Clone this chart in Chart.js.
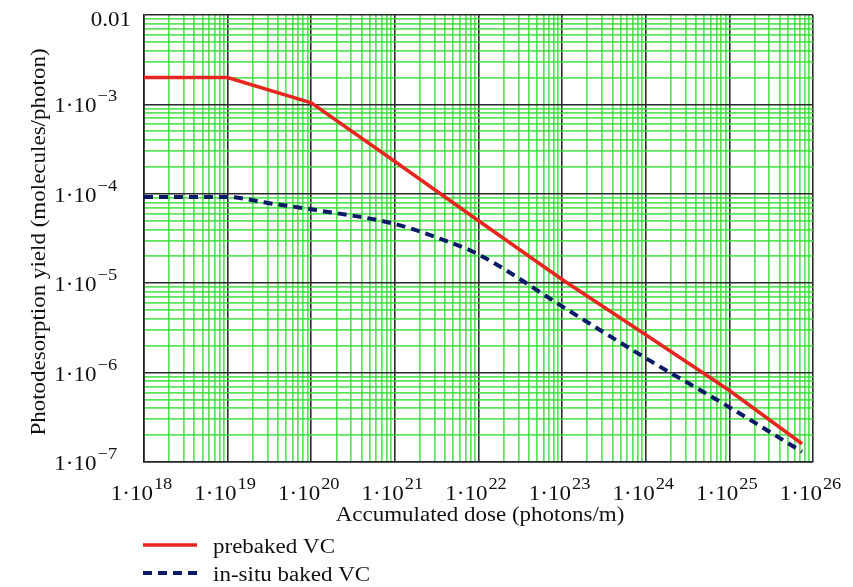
<!DOCTYPE html>
<html>
<head>
<meta charset="utf-8">
<script src="https://cdn.jsdelivr.net/npm/chart.js@4.4.0/dist/chart.umd.min.js"></script>
<style>
  html, body { margin: 0; padding: 0; background: #fff; }
  #wrap { width: 853px; height: 587px; }
</style>
</head>
<body>
<div id="wrap"><canvas id="chart" width="853" height="587"></canvas></div>
<script>
// accumulated dose (photons/m) and yields
const dosePrebaked = [1e18, 1e19, 1e20, 1e21, 1e22, 1e23, 1e24, 1e25, 7.4e25];
const yieldPrebaked = [2.0e-3, 2.0e-3, 1.04e-3, 2.3e-4, 5.0e-5, 1.1e-5, 2.65e-6, 6.3e-7, 1.6e-7];

const doseInsitu = [1e18, 1e19, 3e19, 1e20, 1e21, 3e21, 1e22, 1e23, 1e24, 1e25, 7.4e25];
const yieldInsitu = [9.2e-5, 9.2e-5, 7.9e-5, 6.7e-5, 4.6e-5, 3.3e-5, 2.1e-5, 5.5e-6, 1.45e-6, 4.1e-7, 1.3e-7];

const xDecades = [18, 19, 20, 21, 22, 23, 24, 25, 26];
const yDecades = [-7, -6, -5, -4, -3, -2];
const seriesNames = ['prebaked VC', 'in-situ baked VC'];
const xTitle = 'Accumulated dose (photons/m)';
const yTitle = 'Photodesorption yield (molecules/photon)';

const SERIF = '"Liberation Serif", "DejaVu Serif", serif';
const SX = 1.15; // the source text is a bit wider than Times

function toPoints(xs, ys) {
    return xs.map((x, i) => ({ x: x, y: ys[i] }));
}

function logTicks(decades) {
    const ticks = [];
    for (let i = 0; i < decades.length; i++) {
        const e = decades[i];
        ticks.push({ value: Math.pow(10, e) });
        if (i < decades.length - 1) {
            for (let m = 2; m <= 9; m++) ticks.push({ value: m * Math.pow(10, e) });
        }
    }
    return ticks;
}

function isDecade(v) {
    const l = Math.log10(v);
    return Math.abs(l - Math.round(l)) < 1e-6;
}

function textWidth(ctx, text, font) {
    ctx.font = font;
    return ctx.measureText(text).width * SX;
}

function drawText(ctx, text, left, baseline, font) {
    ctx.save();
    ctx.font = font;
    ctx.textAlign = 'left';
    ctx.textBaseline = 'alphabetic';
    ctx.translate(left, baseline);
    ctx.scale(SX, 1);
    ctx.fillText(text, 0, 0);
    ctx.restore();
}

const mainFont = '20px ' + SERIF;
const supFont = '16px ' + SERIF;

const labelsPlugin = {
    id: 'mathcadLabels',
    afterDraw(chart) {
        const ctx = chart.ctx;
        const xs = chart.scales.x;
        const ys = chart.scales.y;
        ctx.save();
        ctx.fillStyle = '#111';

        // x tick labels: 1·10^n
        xDecades.forEach(e => {
            const px = xs.getPixelForValue(Math.pow(10, e));
            const wm = textWidth(ctx, '1·10', mainFont);
            const wsup = textWidth(ctx, String(e), supFont);
            const left = px - 3 - (wm + wsup) / 2;
            drawText(ctx, '1·10', left, 500, mainFont);
            drawText(ctx, String(e), left + wm + 1, 489, supFont);
        });

        // y tick labels
        yDecades.forEach(e => {
            const py = ys.getPixelForValue(Math.pow(10, e));
            if (e === -2) {
                const w = textWidth(ctx, '0.01', mainFont);
                drawText(ctx, '0.01', 131 - w, py + 11, mainFont);
                return;
            }
            const wm = textWidth(ctx, '1·10', mainFont);
            drawText(ctx, '1·10', 96.5 - wm, py + 8, mainFont);
            drawText(ctx, '\u2212' + Math.abs(e), 97.5, py - 3, supFont);
        });

        // axis titles
        const wx = textWidth(ctx, xTitle, mainFont);
        drawText(ctx, xTitle, 480 - wx / 2, 521, mainFont);

        ctx.save();
        ctx.translate(45, 242);
        ctx.rotate(-Math.PI / 2);
        const wy = textWidth(ctx, yTitle, mainFont);
        drawText(ctx, yTitle, -wy / 2, 0, mainFont);
        ctx.restore();

        // legend
        const rows = [545, 573];
        chart.data.datasets.forEach((ds, i) => {
            ctx.save();
            ctx.strokeStyle = ds.borderColor;
            ctx.lineWidth = ds.borderWidth;
            ctx.setLineDash(ds.borderDash || []);
            ctx.beginPath();
            ctx.moveTo(143, rows[i]);
            ctx.lineTo(197, rows[i]);
            ctx.stroke();
            ctx.restore();
            drawText(ctx, ds.label, 213, rows[i] + 8, mainFont);
        });
        ctx.restore();
    }
};

const gridColor = c => (c.tick && isDecade(c.tick.value)) ? '#2a2a2a' : 'rgba(50,220,50,0.8)';
const gridWidth = c => (c.tick && isDecade(c.tick.value)) ? 1.6 : 1.7;

new Chart(document.getElementById('chart').getContext('2d'), {
    type: 'line',
    data: {
        datasets: [{
            label: seriesNames[0],
            data: toPoints(dosePrebaked, yieldPrebaked),
            borderColor: '#e8251f',
            borderWidth: 3.5,
            pointRadius: 0,
            tension: 0,
            fill: false
        }, {
            label: seriesNames[1],
            data: toPoints(doseInsitu, yieldInsitu),
            borderColor: '#0b1a66',
            borderWidth: 4,
            borderDash: [9, 6],
            pointRadius: 0,
            cubicInterpolationMode: 'monotone',
            fill: false
        }]
    },
    options: {
        responsive: false,
        animation: false,
        layout: { padding: { left: 0, top: 15, right: 40, bottom: 0 } },
        plugins: {
            legend: { display: false },
            tooltip: { enabled: false }
        },
        scales: {
            x: {
                type: 'logarithmic',
                min: 1e18,
                max: 1e26,
                afterBuildTicks: s => { s.ticks = logTicks(xDecades); },
                afterFit: s => { s.height = 125; },
                ticks: { display: false, autoSkip: false },
                grid: { color: gridColor, lineWidth: gridWidth, drawTicks: false },
                border: { display: true, color: '#222', width: 1.6 }
            },
            y: {
                type: 'logarithmic',
                min: 1e-7,
                max: 1e-2,
                afterBuildTicks: s => { s.ticks = logTicks(yDecades); },
                afterFit: s => { s.width = 144; },
                ticks: { display: false, autoSkip: false },
                grid: { color: gridColor, lineWidth: gridWidth, drawTicks: false },
                border: { display: true, color: '#222', width: 1.6 }
            }
        }
    },
    plugins: [labelsPlugin]
});
</script>
</body>
</html>
